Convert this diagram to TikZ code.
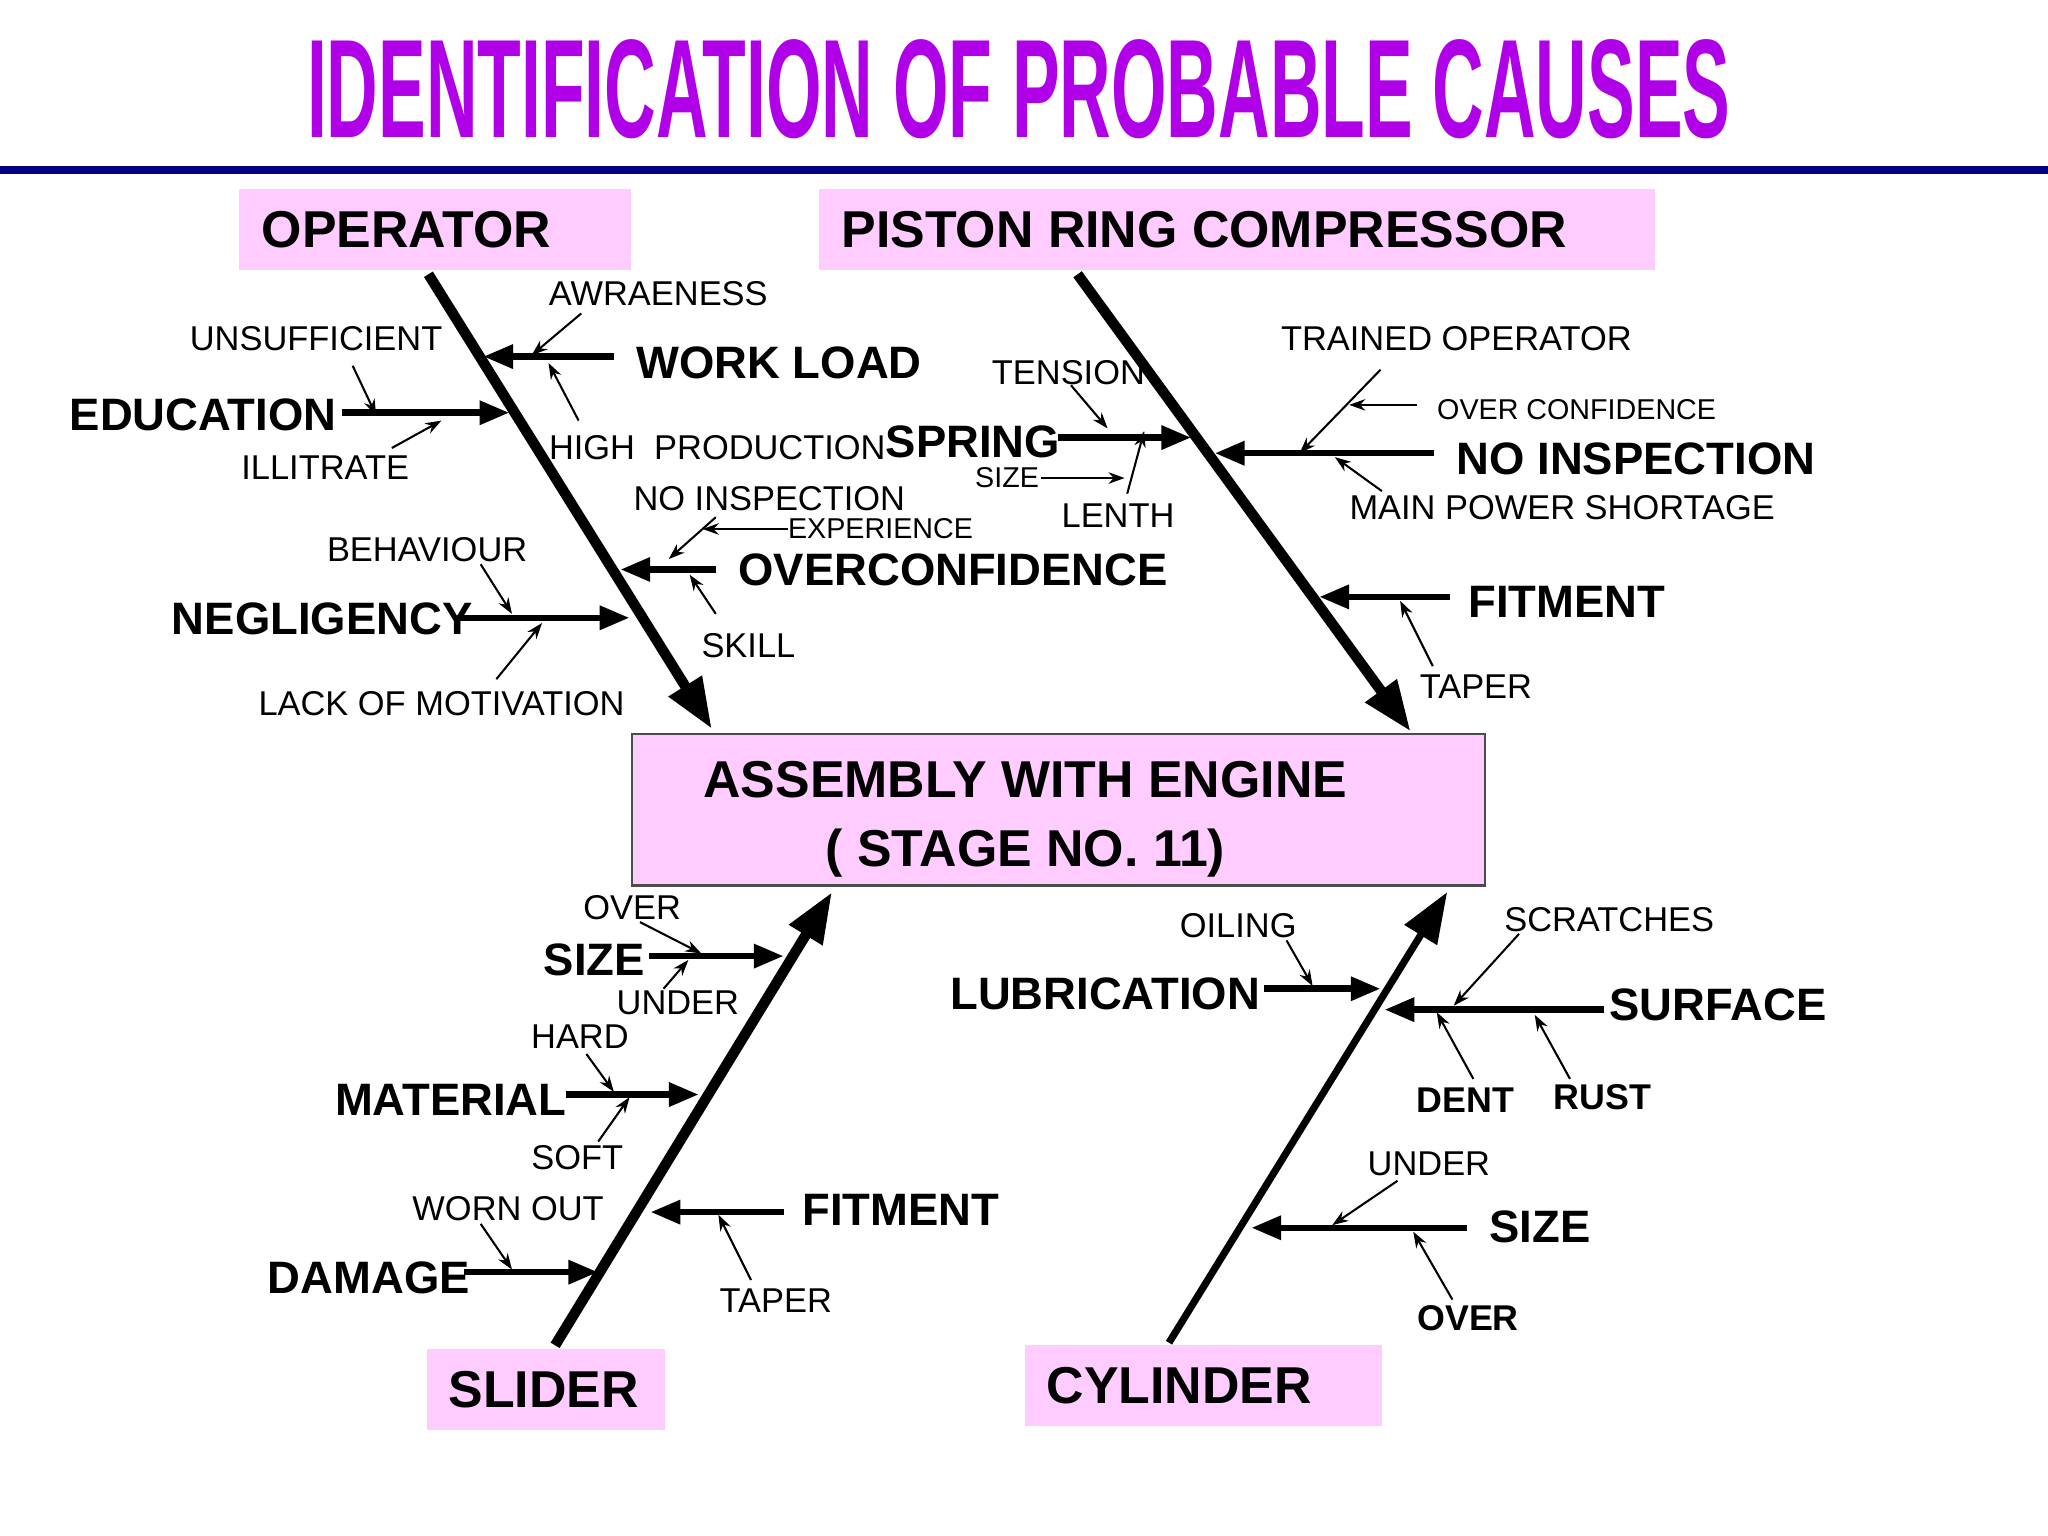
\documentclass[tikz,border=0pt]{standalone}
\usepackage{fontspec}
\setmainfont{Liberation Sans}
\usetikzlibrary{arrows.meta}
\definecolor{pinkbox}{HTML}{FFCCFF}
\definecolor{navy}{HTML}{000080}
\definecolor{titlec}{HTML}{B000E8}
\begin{document}
\begin{tikzpicture}[x=0.02cm,y=-0.02cm,
  box/.style={fill=pinkbox,draw=none},
  big/.style={font=\fontsize{22.6}{25}\selectfont\bfseries,inner sep=0},
  med/.style={font=\fontsize{19.8}{22}\selectfont\bfseries,inner sep=0},
  sm/.style={font=\fontsize{15}{17}\selectfont,inner sep=0},
  xs/.style={font=\fontsize{12.5}{14}\selectfont,inner sep=0},
  smb/.style={font=\fontsize{15.6}{18}\selectfont\bfseries,inner sep=0},
  bone/.style={line width=8pt*0.567,-{Triangle[length=22pt,width=16pt]}},
  sub/.style={line width=5pt*0.567,-{Triangle[length=13pt,width=10pt]}},
  tw/.style={line width=0.9pt,-{Stealth[length=7pt,width=5pt]}}]
\useasboundingbox (0,0) rectangle (1568,1176);
\fill[white] (0,0) rectangle (1568,1176);
% title
\node[inner sep=0,text=titlec] (title) at (780,68) {\resizebox{21.8cm}{1.5cm}{\bfseries IDENTIFICATION OF PROBABLE CAUSES}};
\draw[navy,line width=6pt*0.567] (0,130) -- (1568,130);
% boxes
\fill[box] (183,145) rectangle (483,207);
\node[big,anchor=west] (op) at (200,176) {OPERATOR};
\fill[box] (627,145) rectangle (1267,207);
\node[big,anchor=west] (prc) at (644,176) {PISTON RING COMPRESSOR};
\draw[fill=pinkbox,draw=black!70,line width=1pt] (484,562) rectangle (1137,678);
\node[big] (asm1) at (785,597) {ASSEMBLY WITH ENGINE};
\node[big] (asm2) at (785,653) {( STAGE NO. 11)};
\fill[box] (327,1033) rectangle (509,1095);
\node[big,anchor=west] (sl) at (343,1064) {SLIDER};
\fill[box] (785,1030) rectangle (1058,1092);
\node[big,anchor=west] (cy) at (801,1061) {CYLINDER};
% main bones
\draw[bone] (328,210) -- (545,558);
\draw[bone] (825,210) -- (1080,560);
\draw[bone] (425,1030) -- (637,683);
\draw[bone,line width=5.5pt*0.567] (895,1028) -- (1108,683);
% sub bones
\draw[sub] (470,273) -- (370,273); \node[med,anchor=west] (wl) at (487,278) {WORK LOAD};
\draw[sub] (262,316) -- (390,316); \node[med,anchor=east] (ed) at (258,318) {EDUCATION};
\draw[sub] (548,436) -- (475,436); \node[med,anchor=west] (oc) at (565,436) {OVERCONFIDENCE};
\draw[sub] (350,473) -- (482,473); \node[med,anchor=east] (ng) at (362,474) {NEGLIGENCY};
\draw[sub] (810,335) -- (912,335); \node[med,anchor=east] (sp) at (812,338) {SPRING};
\draw[sub] (1098,347) -- (930,347); \node[med,anchor=west] (ni) at (1115,351) {NO INSPECTION};
\draw[sub] (1110,457) -- (1010,457); \node[med,anchor=west] (fp) at (1124,461) {FITMENT};
\draw[sub] (497,732) -- (600,732); \node[med,anchor=east] (ss) at (494,735) {SIZE};
\draw[sub] (433,838) -- (535,838); \node[med,anchor=east] (mt) at (434,842) {MATERIAL};
\draw[sub] (355,974) -- (458,974); \node[med,anchor=east] (dm) at (360,978) {DAMAGE};
\draw[sub] (600,928) -- (498,928); \node[med,anchor=west] (fs) at (614,926) {FITMENT};
\draw[sub] (968,757) -- (1057,757); \node[med,anchor=east] (lb) at (965,761) {LUBRICATION};
\draw[sub] (1228,773) -- (1060,773); \node[med,anchor=west] (sf) at (1232,769) {SURFACE};
\draw[sub] (1123,940) -- (958,940); \node[med,anchor=west] (sc) at (1140,939) {SIZE};
% small labels
\node[sm] (aw) at (504,225) {AWRAENESS}; \draw[tw] (445,240) -- (407,272);
\node[sm] (un) at (242,259) {UNSUFFICIENT}; \draw[tw] (270,280) -- (288,318);
\node[sm,anchor=west] (hp) at (420,343) {HIGH\ \ PRODUCTION}; \draw[tw] (443,322) -- (420,278);
\node[sm] (il) at (249,358) {ILLITRATE}; \draw[tw] (300,343) -- (338,322);
\node[sm] (te) at (818,285) {TENSION}; \draw[tw] (820,295) -- (848,328);
\node[xs] (sz) at (771,366) {SIZE}; \draw[tw] (797,366) -- (861,366);
\node[sm] (le) at (856,395) {LENTH}; \draw[tw] (863,378) -- (876,330);
\node[sm] (nis) at (589,382) {NO INSPECTION}; \draw[tw] (548,396) -- (512,428);
\node[xs,anchor=west] (ex) at (603,405) {EXPERIENCE}; \draw[tw] (603,405) -- (538,405);
\node[sm] (sk) at (573,494) {SKILL}; \draw[tw] (548,470) -- (528,440);
\node[sm] (be) at (327,421) {BEHAVIOUR}; \draw[tw] (368,432) -- (392,470);
\node[sm] (lm) at (338,539) {LACK OF MOTIVATION}; \draw[tw] (380,520) -- (415,477);
\node[sm] (to) at (1115,259) {TRAINED OPERATOR}; \draw[tw] (1057,283) -- (995,347);
\node[xs,anchor=west] (ocs) at (1100,314) {OVER CONFIDENCE}; \draw[tw] (1085,310) -- (1033,310);
\node[sm] (mp) at (1196,389) {MAIN POWER SHORTAGE}; \draw[tw] (1058,376) -- (1022,350);
\node[sm] (tp) at (1130,526) {TAPER}; \draw[tw] (1097,510) -- (1072,460);
\node[sm] (ov) at (484,695) {OVER}; \draw[tw] (490,706) -- (537,730);
\node[sm] (ud) at (519,768) {UNDER}; \draw[tw] (508,757) -- (527,735);
\node[sm] (hd) at (444,794) {HARD}; \draw[tw] (449,807) -- (470,836);
\node[sm] (so) at (442,886) {SOFT}; \draw[tw] (458,874) -- (482,840);
\node[sm] (wo) at (389,925) {WORN OUT}; \draw[tw] (368,937) -- (392,972);
\node[sm] (ts) at (594,996) {TAPER}; \draw[tw] (575,980) -- (550,930);
\node[sm] (oi) at (948,709) {OILING}; \draw[tw] (985,720) -- (1005,755);
\node[sm] (sr) at (1232,704) {SCRATCHES}; \draw[tw] (1163,715) -- (1113,770);
\node[smb] (dn) at (1122,842) {DENT}; \draw[tw] (1128,826) -- (1100,775);
\node[smb] (ru) at (1227,840) {RUST}; \draw[tw] (1202,826) -- (1175,777);
\node[sm] (uc) at (1094,891) {UNDER}; \draw[tw] (1070,904) -- (1020,938);
\node[smb] (oc2) at (1124,1009) {OVER}; \draw[tw] (1112,995) -- (1082,943);
\end{tikzpicture}
\end{document}
